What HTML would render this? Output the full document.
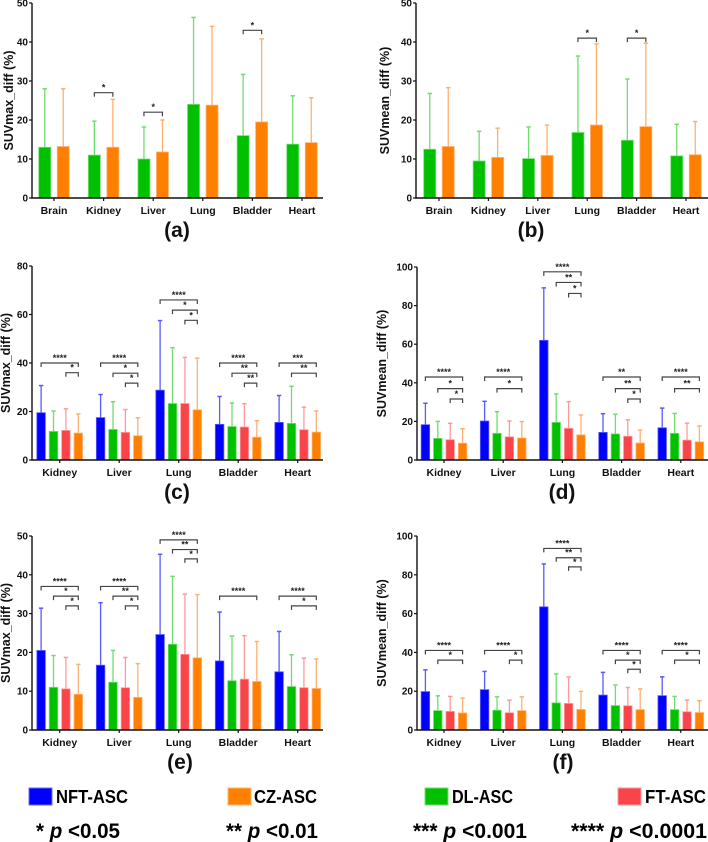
<!DOCTYPE html>
<html><head><meta charset="utf-8"><style>
body{margin:0;background:#fff;}
svg{display:block;font-family:"Liberation Sans",Arial,sans-serif;font-weight:bold;}
</style></head><body>
<svg id="fig" width="708" height="842" viewBox="0 0 708 842" xmlns="http://www.w3.org/2000/svg">
<g>
<rect x="29" y="788" width="23" height="17" fill="#0000ff" stroke="#6a6aff"/>
<text x="56" y="803" font-size="18" textLength="72" lengthAdjust="spacingAndGlyphs">NFT-ASC</text>
<rect x="228" y="788" width="23" height="17" fill="#ff8000" stroke="#ffb070"/>
<text x="254" y="803" font-size="18" textLength="63" lengthAdjust="spacingAndGlyphs">CZ-ASC</text>
<rect x="425" y="788" width="23" height="17" fill="#00c000" stroke="#70e070"/>
<text x="452" y="803" font-size="18" textLength="61" lengthAdjust="spacingAndGlyphs">DL-ASC</text>
<rect x="618" y="788" width="23" height="17" fill="#f94449" stroke="#ff9a9c"/>
<text x="645" y="803" font-size="18" textLength="61" lengthAdjust="spacingAndGlyphs">FT-ASC</text>
<text x="36" y="838" font-size="21" textLength="84" lengthAdjust="spacingAndGlyphs">*<tspan font-style="italic"> p</tspan> &lt;0.05</text>
<text x="226" y="838" font-size="21" textLength="92" lengthAdjust="spacingAndGlyphs">**<tspan font-style="italic"> p</tspan> &lt;0.01</text>
<text x="413" y="838" font-size="21" textLength="114" lengthAdjust="spacingAndGlyphs">***<tspan font-style="italic"> p</tspan> &lt;0.001</text>
<text x="571" y="838" font-size="21" textLength="136" lengthAdjust="spacingAndGlyphs">****<tspan font-style="italic"> p</tspan> &lt;0.0001</text>
</g>
</svg>
<script>
// ---- data ----
const catsAB = ["Brain","Kidney","Liver","Lung","Bladder","Heart"];
const catsCF = ["Kidney","Liver","Lung","Bladder","Heart"];
const seriesAB = ["DL-ASC","CZ-ASC"];
const seriesCF = ["NFT-ASC","DL-ASC","FT-ASC","CZ-ASC"];
// panel a
const aDL = [13,11,10,24,16,13.8];
const aDLErr = [28,19.7,18.2,46.3,31.7,26.2];
const aCZ = [13.2,13,11.8,23.8,19.5,14.2];
const aCZErr = [28,25.3,20,44,40.8,25.7];
const aSig = [[1,0,1,27,"*"],[2,0,1,22,"*"],[4,0,1,43,"*"]];
// panel b
const bDL = [12.5,9.5,10.1,16.8,14.8,10.8];
const bDLErr = [26.8,17.1,18.2,36.4,30.5,18.9];
const bCZ = [13.2,10.4,10.9,18.7,18.3,11.1];
const bCZErr = [28.3,17.9,18.7,39.5,39.7,19.6];
const bSig = [[3,0,1,41,"*"],[4,0,1,41,"*"]];
// panel c
const cNFT = [19.5,17.5,28.8,14.7,15.5];
const cNFTErr = [30.7,27,57.5,26.2,26.6];
const cDL = [11.8,12.6,23.3,13.8,15.1];
const cDLErr = [20.2,24,46.3,23.5,30.4];
const cFT = [12.2,11.4,23.3,13.6,12.5];
const cFTErr = [21.1,20.8,42.3,23.2,21.8];
const cCZ = [11.1,10,20.7,9.4,11.5];
const cCZErr = [19,17.4,42,16.2,20.2];
const cSig = [[0,0,3,40,"****"],[0,2,3,36,"*"],[1,0,3,40,"****"],[1,1,3,35.8,"*"],[1,2,3,31.7,"*"],
 [2,0,3,66,"****"],[2,1,3,61.8,"*"],[2,2,3,57.6,"*"],[3,0,3,40,"****"],[3,1,3,35.8,"**"],[3,2,3,31.7,"**"],
 [4,0,3,40,"***"],[4,1,3,35.8,"**"]];
// panel d
const dNFT = [18.3,20.2,62,14.3,16.7];
const dNFTErr = [29.4,30.4,89.2,24,26.9];
const dDL = [11.2,13.8,19.5,13.5,13.8];
const dDLErr = [20,25,34.2,23.7,24.1];
const dFT = [10.5,12,16.4,12.3,10.3];
const dFTErr = [19,20.2,30.2,20.8,19.1];
const dCZ = [8.7,11.4,13,8.8,9.4];
const dCZErr = [16.2,19.9,23.3,15.5,17.6];
const dSig = [[0,0,3,43,"****"],[0,1,3,37,"*"],[0,2,3,31.6,"*"],[1,0,3,43,"****"],[1,1,3,37,"*"],
 [2,0,3,97.5,"****"],[2,1,3,92,"**"],[2,2,3,86.3,"*"],[3,0,3,43,"**"],[3,1,3,37,"**"],[3,2,3,31.6,"*"],
 [4,0,3,43,"****"],[4,1,3,37,"**"]];
// panel e
const eNFT = [20.5,16.7,24.6,17.8,15];
const eNFTErr = [31.4,32.8,45.3,30.4,25.4];
const eDL = [11,12.3,22.1,12.7,11.2];
const eDLErr = [19.2,20.5,39.6,24.2,19.4];
const eFT = [10.6,10.9,19.5,13.1,10.9];
const eFTErr = [18.7,18.7,35,24.3,18.5];
const eCZ = [9.2,8.4,18.6,12.5,10.7];
const eCZErr = [16.9,17.1,34.9,22.8,18.3];
const eSig = [[0,0,3,37,"****"],[0,1,3,34.5,"*"],[0,2,3,32,"*"],[1,0,3,37,"****"],[1,1,3,34.5,"**"],[1,2,3,32,"*"],
 [2,0,3,49,"****"],[2,1,3,46.5,"**"],[2,2,3,44.1,"*"],[3,0,3,34.5,"****"],[4,0,3,34.5,"****"],[4,1,3,32,"*"]];
// panel f
const fNFT = [19.8,20.8,63.5,18,17.7];
const fNFTErr = [31,30.2,85.6,29.7,27.4];
const fDL = [10,10.2,14,12.6,10.5];
const fDLErr = [17.6,17.1,28.9,23.2,17.3];
const fFT = [9.6,8.9,13.7,12.5,9.4];
const fFTErr = [17.3,15.4,27.3,21.9,15.4];
const fCZ = [8.8,10,10.6,10.5,9];
const fCZErr = [16.4,17.1,19.9,21.2,15.1];
const fSig = [[0,0,3,41,"****"],[0,1,3,36,"*"],[1,0,3,41,"****"],[1,2,3,36,"*"],
 [2,0,3,93.6,"****"],[2,1,3,88.8,"**"],[2,2,3,84.1,"*"],[3,0,3,41,"****"],[3,1,3,36,"*"],[3,2,3,31.3,"*"],
 [4,0,3,41,"****"],[4,1,3,36,"*"]];
const yTicks50 = [0,10,20,30,40,50];
const yTicks80 = [0,20,40,60,80];
const yTicks100 = [0,20,40,60,80,100];

// ---- drawing ----
const NS = "http://www.w3.org/2000/svg";
const fig = document.getElementById("fig");
const FILL = {"NFT-ASC":"#0000ff","DL-ASC":"#00c000","FT-ASC":"#f94449","CZ-ASC":"#ff8000"};
const LIGHT = {"NFT-ASC":"#5a5aff","DL-ASC":"#70dd70","FT-ASC":"#ff9a9c","CZ-ASC":"#ffb070"};
function mk(tag, attrs, parent){
  const e = document.createElementNS(NS, tag);
  for (const k in attrs) e.setAttribute(k, attrs[k]);
  parent.appendChild(e); return e;
}
function panel(p){
  const g = mk("g", {}, fig);
  
  
  const yS = v => p.y0 - (v / p.ymax) * (p.y0 - p.ytop);
  const xS = i => p.x0c + i * p.step;
  p.series.forEach((s, si) => {
    const vals = p.vals[si], errs = p.errs[si];
    const off = (si - (p.series.length - 1) / 2) * p.bstep;
    vals.forEach((v, i) => {
      const cx = xS(i) + off;
      const eb = mk("line", {x1:cx, x2:cx, y1:yS(v), y2:yS(errs[i]), stroke:LIGHT[s], "stroke-width":1.3}, g);
      
      
      const cap = mk("line", {x1:cx-2.2, x2:cx+2.2, y1:yS(errs[i]), y2:yS(errs[i]), stroke:LIGHT[s], "stroke-width":1.5}, g);
      
      
      const r = mk("rect", {x:cx-p.bw/2, y:yS(v), width:p.bw, height:p.y0-yS(v), fill:FILL[s], stroke:LIGHT[s], "stroke-width":0.8}, g);
      
      
    });
  });
  p.sig.forEach(sg => {
    const n = p.series.length;
    const xa = xS(sg[0]) + (sg[1] - (n-1)/2) * p.bstep;
    const xb = xS(sg[0]) + (sg[2] - (n-1)/2) * p.bstep;
    const y = yS(sg[3]);
    const br = mk("path", {d:`M${xa},${y+4}V${y}H${xb}V${y+4}`, fill:"none", stroke:"#444", "stroke-width":1.2}, g);
    
    
    const t = mk("text", {x:(xa+xb)/2, y:y-2, "text-anchor":"middle", "font-size":9, fill:"#222"}, g);
    t.textContent = sg[4];
    
    
  });
  const ax = mk("path", {d:`M${p.xaxis},${p.ytop}V${p.y0}H${p.xend}`, fill:"none", stroke:"#111", "stroke-width":1.4}, g);
  
  
  p.ticks.forEach(t => {
    const y = yS(t);
    const tl = mk("line", {x1:p.xaxis-3, x2:p.xaxis, y1:y, y2:y, stroke:"#111", "stroke-width":1.2}, g);
    
    
    const tx = mk("text", {x:p.xaxis-4, y:y+3.5, "text-anchor":"end", "font-size":10, fill:"#111"}, g);
    tx.textContent = t;
    
    
  });
  p.cats.forEach((c, i) => {
    const x = xS(i);
    const tl = mk("line", {x1:x, x2:x, y1:p.y0, y2:p.y0+3, stroke:"#111", "stroke-width":1.2}, g);
    
    
    const tx = mk("text", {x:x, y:p.y0+16, "text-anchor":"middle", "font-size":10.5, fill:"#111"}, g);
    tx.textContent = c;
    
    
  });
  const yt = mk("text", {x:0, y:0, "text-anchor":"middle", "font-size":12.5, fill:"#111",
    transform:`translate(${p.ytitleX},${(p.ytop+p.y0)/2}) rotate(-90)`}, g);
  yt.textContent = p.ytitle;
  
  
  const lb = mk("text", {x:p.labelX, y:p.y0+39, "text-anchor":"middle", "font-size":21, fill:"#111"}, g);
  lb.textContent = p.label;
  
  
}
panel({name:"panel-a", label:"(a)", labelX:177, cats:catsAB, series:seriesAB, vals:[aDL,aCZ], errs:[aDLErr,aCZErr], sig:aSig,
  xaxis:32, xend:323, ytop:3, y0:198, ymax:50, ticks:yTicks50, x0c:54, step:49.6, bstep:18.5, bw:12, ytitle:"SUVmax_diff (%)", ytitleX:13});
panel({name:"panel-b", label:"(b)", labelX:531, cats:catsAB, series:seriesAB, vals:[bDL,bCZ], errs:[bDLErr,bCZErr], sig:bSig,
  xaxis:416, xend:708, ytop:3, y0:198, ymax:50, ticks:yTicks50, x0c:439, step:49.4, bstep:18.5, bw:12, ytitle:"SUVmean_diff (%)", ytitleX:389});
panel({name:"panel-c", label:"(c)", labelX:177, cats:catsCF, series:seriesCF, vals:[cNFT,cDL,cFT,cCZ], errs:[cNFTErr,cDLErr,cFTErr,cCZErr], sig:cSig,
  xaxis:32, xend:323, ytop:266, y0:460, ymax:80, ticks:yTicks80, x0c:59.7, step:59.5, bstep:12.4, bw:8.5, ytitle:"SUVmax_diff (%)", ytitleX:10});
panel({name:"panel-d", label:"(d)", labelX:562, cats:catsCF, series:seriesCF, vals:[dNFT,dDL,dFT,dCZ], errs:[dNFTErr,dDLErr,dFTErr,dCZErr], sig:dSig,
  xaxis:417, xend:708, ytop:267, y0:460, ymax:100, ticks:yTicks100, x0c:444, step:59.2, bstep:12.4, bw:8.5, ytitle:"SUVmean_diff (%)", ytitleX:386});
panel({name:"panel-e", label:"(e)", labelX:180, cats:catsCF, series:seriesCF, vals:[eNFT,eDL,eFT,eCZ], errs:[eNFTErr,eDLErr,eFTErr,eCZErr], sig:eSig,
  xaxis:32, xend:323, ytop:536, y0:730, ymax:50, ticks:yTicks50, x0c:59.7, step:59.5, bstep:12.4, bw:8.5, ytitle:"SUVmax_diff (%)", ytitleX:10});
panel({name:"panel-f", label:"(f)", labelX:563, cats:catsCF, series:seriesCF, vals:[fNFT,fDL,fFT,fCZ], errs:[fNFTErr,fDLErr,fFTErr,fCZErr], sig:fSig,
  xaxis:417, xend:708, ytop:536, y0:730, ymax:100, ticks:yTicks100, x0c:444, step:59.2, bstep:12.4, bw:8.5, ytitle:"SUVmean_diff (%)", ytitleX:386});
</script>
</body></html>
